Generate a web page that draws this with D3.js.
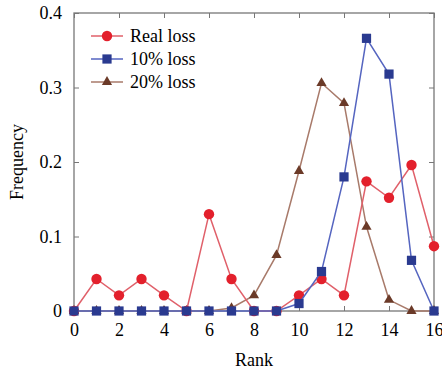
<!DOCTYPE html>
<html>
<head>
<meta charset="utf-8">
<script src="https://cdn.jsdelivr.net/npm/d3@7"></script>
<style>
  body { margin: 0; background: #fff; }
  svg text { font-family: "Liberation Serif", "Times New Roman", serif; }
</style>
</head>
<body>
<div id="chart"></div>
<script>
var ranks = d3.range(0, 17);
var realLoss = [0, 0.043, 0.021, 0.043, 0.021, 0, 0.130, 0.043, 0, 0, 0.021, 0.043, 0.021, 0.174, 0.152, 0.196, 0.087];
var loss10 = [0, 0, 0, 0, 0, 0, 0, 0, 0, 0, 0.010, 0.053, 0.180, 0.366, 0.318, 0.068, 0];
var loss20 = [0, 0, 0, 0, 0, 0, 0, 0.004, 0.021, 0.075, 0.188, 0.306, 0.279, 0.113, 0.015, 0, 0];
var xTicks = [0, 2, 4, 6, 8, 10, 12, 14, 16];
var yTicks = [0, 0.1, 0.2, 0.3, 0.4];

var width = 442, height = 371,
    plotL = 74, plotR = 434, plotT = 13, plotB = 311;

var svg = d3.select("#chart").append("svg")
    .attr("width", width)
    .attr("height", height);

var x = d3.scaleLinear().domain([0, 16]).range([plotL, plotR]);
var y = d3.scaleLinear().domain([0, 0.4]).range([plotB, plotT]);

var axisColor = "#777";

// frame
svg.append("rect")
    .attr("x", plotL).attr("y", plotT)
    .attr("width", plotR - plotL).attr("height", plotB - plotT)
    .attr("fill", "none").attr("stroke", axisColor).attr("stroke-width", 1.3);

function styleAxis(g) {
    g.select(".domain").remove();
    g.selectAll(".tick line").attr("stroke", axisColor).attr("stroke-width", 1);
    g.selectAll(".tick text").attr("fill", "#000").style("font-size", "18px")
        .style("font-family", "'Liberation Serif', serif");
}

svg.append("g")
    .attr("transform", "translate(0," + plotB + ")")
    .call(d3.axisBottom(x).tickValues(xTicks).tickSize(-5).tickPadding(12).tickFormat(d3.format("d")))
    .call(styleAxis);

svg.append("g")
    .attr("transform", "translate(0," + plotT + ")")
    .call(d3.axisTop(x).tickValues(xTicks).tickSize(-5).tickFormat(""))
    .call(styleAxis);

svg.append("g")
    .attr("transform", "translate(" + plotL + ",0)")
    .call(d3.axisLeft(y).tickValues(yTicks).tickSize(-5).tickPadding(12)
        .tickFormat(function(d){ return d === 0 ? "0" : d3.format(".1f")(d); }))
    .call(styleAxis);

svg.append("g")
    .attr("transform", "translate(" + plotR + ",0)")
    .call(d3.axisRight(y).tickValues(yTicks).tickSize(-5).tickFormat(""))
    .call(styleAxis);

// axis titles
svg.append("text")
    .attr("x", (plotL + plotR) / 2).attr("y", 366)
    .attr("text-anchor", "middle")
    .style("font-size", "18px")
    .text("Rank");

svg.append("text")
    .attr("transform", "translate(23," + ((plotT + plotB) / 2) + ") rotate(-90)")
    .attr("text-anchor", "middle")
    .style("font-size", "18px")
    .text("Frequency");

var series = [
    {name: "20% loss", values: loss20, line: "#a87a6a", fill: "#6b3a28", shape: d3.symbolTriangle, size: 45},
    {name: "Real loss", values: realLoss, line: "#e0606a", fill: "#e3202c", shape: d3.symbolCircle, size: 85},
    {name: "10% loss", values: loss10, line: "#5565c0", fill: "#2a3a90", shape: d3.symbolSquare, size: 85}
];

var line = d3.line()
    .x(function(d, i){ return x(ranks[i]); })
    .y(function(d){ return y(d); });

series.forEach(function(s) {
    svg.append("path")
        .datum(s.values)
        .attr("d", line)
        .attr("fill", "none")
        .attr("stroke", s.line)
        .attr("stroke-width", 1.5);

    svg.selectAll(null)
        .data(s.values)
        .enter()
        .append("path")
        .attr("transform", function(d, i){ return "translate(" + x(ranks[i]) + "," + y(d) + ")"; })
        .attr("d", d3.symbol().type(s.shape).size(s.size))
        .attr("fill", s.fill);
});

// legend
var legendOrder = [series[1], series[2], series[0]];
var legend = svg.append("g");
legendOrder.forEach(function(s, i) {
    var ly = 36 + i * 23;
    legend.append("line")
        .attr("x1", 91).attr("x2", 123)
        .attr("y1", ly).attr("y2", ly)
        .attr("stroke", s.line).attr("stroke-width", 1.5);
    legend.append("path")
        .attr("transform", "translate(107," + ly + ")")
        .attr("d", d3.symbol().type(s.shape).size(s.size))
        .attr("fill", s.fill);
    legend.append("text")
        .attr("x", 130).attr("y", ly + 6)
        .style("font-size", "18px")
        .text(s.name);
});
</script>
</body>
</html>
